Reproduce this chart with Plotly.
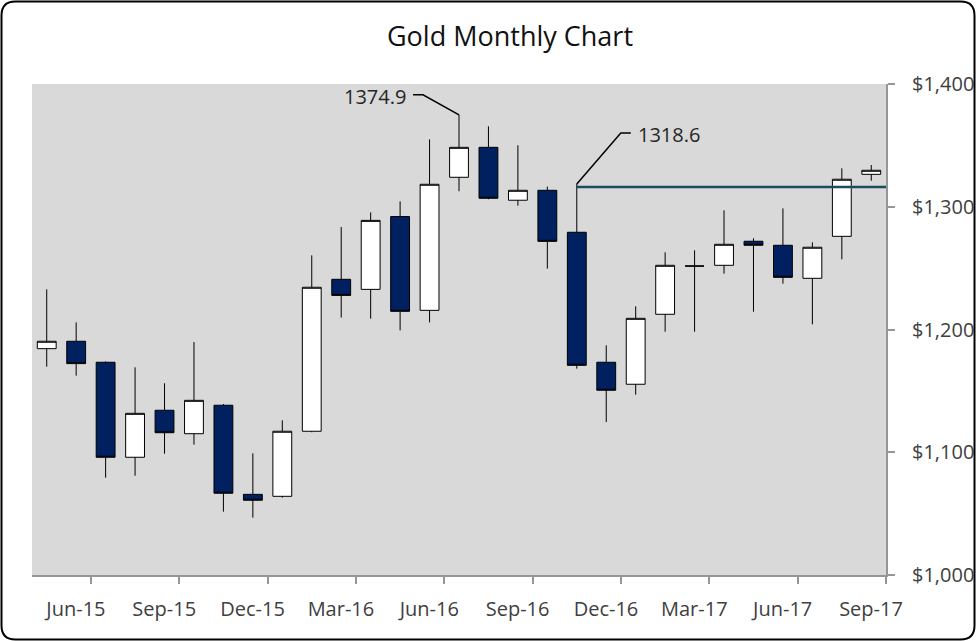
import plotly.graph_objects as go

# monthly gold candles
months = ["May-15", "Jun-15", "Jul-15", "Aug-15", "Sep-15", "Oct-15", "Nov-15", "Dec-15",
          "Jan-16", "Feb-16", "Mar-16", "Apr-16", "May-16", "Jun-16", "Jul-16", "Aug-16",
          "Sep-16", "Oct-16", "Nov-16", "Dec-16", "Jan-17", "Feb-17", "Mar-17", "Apr-17",
          "May-17", "Jun-17", "Jul-17", "Aug-17", "Sep-17"]
opens = [1184.4, 1190.4, 1173.3, 1095.9, 1134.2, 1115.1, 1138.3, 1065.7,
         1064.1, 1117.1, 1240.9, 1232.7, 1292.0, 1215.6, 1324.0, 1348.4,
         1305.3, 1313.4, 1279.2, 1173.3, 1155.4, 1212.4, 1251.7, 1252.3,
         1271.9, 1268.6, 1241.7, 1275.9, 1326.4]
highs = [1232.7, 1205.8, 1174.0, 1169.2, 1156.2, 1189.8, 1139.3, 1099.1,
         1126.0, 1260.4, 1283.5, 1295.4, 1304.4, 1354.9, 1374.9, 1365.5,
         1350.1, 1316.4, 1318.6, 1187.1, 1218.9, 1262.9, 1264.5, 1297.1,
         1274.3, 1298.7, 1271.0, 1331.3, 1334.0]
lows = [1169.7, 1162.4, 1079.3, 1080.9, 1098.8, 1106.2, 1051.6, 1046.7,
        1063.0, 1116.3, 1209.7, 1208.8, 1199.3, 1205.8, 1312.6, 1306.1,
        1300.9, 1249.6, 1168.1, 1124.6, 1146.9, 1198.2, 1198.2, 1245.5,
        1214.5, 1237.3, 1204.2, 1257.2, 1321.2]
closes = [1190.4, 1172.2, 1095.9, 1131.7, 1115.9, 1142.3, 1066.6, 1060.9,
          1117.1, 1234.4, 1227.8, 1288.9, 1214.8, 1318.3, 1348.4, 1306.9,
          1313.4, 1271.8, 1170.8, 1150.5, 1209.1, 1252.3, 1251.7, 1269.4,
          1268.6, 1242.5, 1267.0, 1322.4, 1329.7]

tick_months = ["Jun-15", "Sep-15", "Dec-15", "Mar-16", "Jun-16", "Sep-16",
               "Dec-16", "Mar-17", "Jun-17", "Sep-17"]
y_ticks = [1000, 1100, 1200, 1300, 1400]

line_start = "Nov-16"
line_level = 1316.0
callouts = ["Jul-16", "Nov-16"]

W, H = 977, 641
ML, MR, MT, MB = 32, 91, 84, 66
PW, PH = W - ML - MR, H - MT - MB
FONT = "Open Sans"
GREY = "#969696"

x = list(range(len(months)))

fig = go.Figure()
fig.add_trace(go.Candlestick(
    x=x, open=opens, high=highs, low=lows, close=closes,
    increasing=dict(line=dict(color="black", width=1), fillcolor="white"),
    decreasing=dict(line=dict(color="black", width=1), fillcolor="#002060"),
    whiskerwidth=0, hoverinfo="skip", showlegend=False,
))

# horizontal level from Nov-16 to the right edge
fig.add_shape(type="line", xref="x", yref="y",
              x0=months.index(line_start), x1=len(months) - 0.5,
              y0=line_level, y1=line_level,
              line=dict(color="#1B4B60", width=2.5))

# elbow callouts on the two highs
offsets = {"Jul-16": (-1, -36, -46, 20), "Nov-16": (1, 44, 54, 51)}
for m in callouts:
    i = months.index(m)
    side, ex, tx, ey = offsets[m]
    fig.add_shape(type="path", xref="x", yref="y",
                  xsizemode="pixel", ysizemode="pixel",
                  xanchor=i, yanchor=highs[i],
                  path=f"M0,0 L{ex},{ey} L{tx},{ey}",
                  line=dict(color="black", width=1.5))
    fig.add_annotation(x=i, y=highs[i], xref="x", yref="y",
                       text=f"{highs[i]:.1f}", showarrow=False,
                       xanchor="right" if side < 0 else "left", yanchor="middle",
                       xshift=tx + 5 * side, yshift=ey - 2,
                       font=dict(family=FONT, size=20, color="#262626"))


# rounded chart-area border, drawn in paper coords
def px(v):
    return (v - ML) / PW


def py(v):
    return (H - MB - v) / PH


x0, y0, x1, y1, r = 1.5, 1.5, 974.5, 639.5, 14
pts = [("M", x0 + r, y0), ("L", x1 - r, y0), ("Q", x1, y0, x1, y0 + r),
       ("L", x1, y1 - r), ("Q", x1, y1, x1 - r, y1), ("L", x0 + r, y1),
       ("Q", x0, y1, x0, y1 - r), ("L", x0, y0 + r), ("Q", x0, y0, x0 + r, y0)]
path = ""
for p in pts:
    cmd, vals = p[0], p[1:]
    coords = [f"{px(vals[k]):.5f},{py(vals[k + 1]):.5f}" for k in range(0, len(vals), 2)]
    path += cmd + " ".join(coords) + " "
fig.add_shape(type="path", xref="paper", yref="paper", path=path + "Z",
              line=dict(color="black", width=2), layer="above")

fig.update_layout(
    width=W, height=H,
    margin=dict(l=ML, r=MR, t=MT, b=MB, autoexpand=False),
    paper_bgcolor="white", plot_bgcolor="#D9D9D9",
    boxgap=0.36, boxgroupgap=0,
    title=dict(text="Gold Monthly Chart", x=510 / W, xanchor="center",
               y=1 - 37 / H, yanchor="middle", xref="container", yref="container",
               font=dict(family=FONT, size=27, color="#111111")),
    font=dict(family=FONT),
)
# ticks sit on the month boundary, labels centred on the month itself
half_slot = round(PW / len(months) / 2)
fig.update_xaxes(
    range=[-0.5, len(months) - 0.5], automargin=False,
    tickvals=[months.index(m) + 0.5 for m in tick_months], ticktext=tick_months,
    ticklabelshift=-half_slot,
    ticks="outside", ticklen=7, tickwidth=1.5, tickcolor=GREY,
    showline=True, linecolor=GREY, linewidth=2,
    showgrid=False, zeroline=False, rangeslider=dict(visible=False),
    tickfont=dict(family=FONT, size=20, color="#404040"), ticklabelstandoff=8,
)
fig.update_yaxes(
    side="right", range=[1000, 1400], tickvals=y_ticks, tickformat="$,.0f",
    automargin=False,
    ticks="outside", ticklen=7, tickwidth=1.5, tickcolor=GREY,
    showline=True, linecolor=GREY, linewidth=2,
    showgrid=False, zeroline=False,
    tickfont=dict(family=FONT, size=20, color="#404040"), ticklabelstandoff=13,
)

fig.write_html("out.html", config={"displayModeBar": False},
               post_script="document.body.style.margin='0';")
